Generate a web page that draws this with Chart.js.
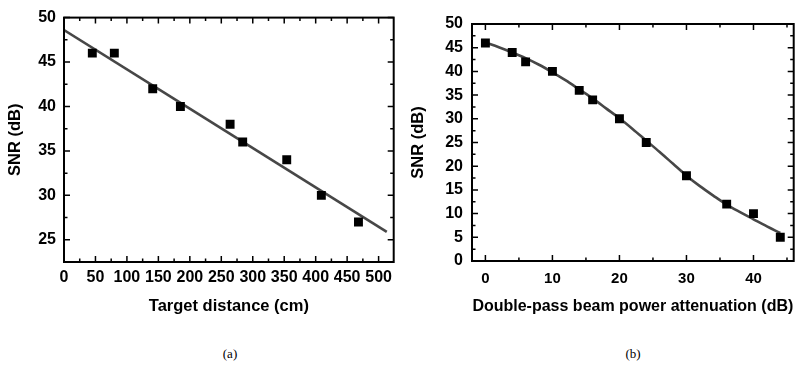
<!DOCTYPE html>
<html lang="en">
<head>
    <meta charset="UTF-8">
    <title>SNR vs distance and attenuation</title>
    <style>
        body { margin: 0; background: #fff; width: 800px; height: 366px; overflow: hidden; position: relative; }
        .panel { position: absolute; top: 0; width: 400px; height: 330px; }
        #panelA { left: 0; }
        #panelB { left: 400px; }
        .caption { position: absolute; top: 346px; font: 13px "Liberation Serif", "Times New Roman", serif; color: #000; transform: translateX(-50%); }
    </style>
    <script src="https://cdn.jsdelivr.net/npm/chart.js"></script>
</head>
<body>
<div class="panel" id="panelA"><canvas id="chartA" width="400" height="330"></canvas></div>
<div class="panel" id="panelB"><canvas id="chartB" width="400" height="330"></canvas></div>
<div class="caption" style="left:230px">(a)</div>
<div class="caption" style="left:633px">(b)</div>

<script>
    // (a) SNR vs target distance
    const distCm   = [45, 80, 141, 185, 264, 284, 354, 409, 468];
    const snrDist  = [46, 46, 42, 40, 38, 36, 34, 30, 27];
    // linear fit, end points
    const fitDistCm = [0, 513];
    const fitSnr    = [48.6, 25.9];
    const distTickLabels = [0, 50, 100, 150, 200, 250, 300, 350, 400, 450, 500];
    const snrTickLabelsA = [25, 30, 35, 40, 45, 50];

    // (b) SNR vs double-pass attenuation
    const attenDb  = [0, 4, 6, 10, 14, 16, 20, 24, 30, 36, 40, 44];
    const snrAtten = [46, 44, 42, 40, 36, 34, 30, 25, 18, 12, 10, 5];
    // fitted curve
    const curveAttenDb = [0, 2, 4, 6, 8, 10, 12, 14, 16, 18, 20, 22, 24, 26, 28, 30, 32, 34, 36, 38, 40, 42, 44];
    const curveSnr     = [46.1, 45.1, 44.0, 42.8, 41.4, 39.8, 38.1, 36.2, 34.3, 32.2, 30.1, 27.8, 25.4, 23.0, 20.5, 18.0, 15.8, 13.8, 11.9, 10.3, 8.8, 7.3, 5.9];
    const attenTickLabels = [0, 10, 20, 30, 40];
    const snrTickLabelsB = [0, 5, 10, 15, 20, 25, 30, 35, 40, 45, 50];

    const FONT = '"Liberation Sans", Arial, Helvetica, sans-serif';
    const toXY = (xs, ys) => xs.map((x, i) => ({ x: x, y: ys[i] }));

    // box frame + inward major/minor tick marks on all four sides
    function frameTicks(xMajor, yMajor) {
        return {
            id: 'frameTicks',
            afterDraw(chart) {
                const { ctx, chartArea: a, scales: { x, y } } = chart;
                ctx.save();
                ctx.setLineDash([]);
                ctx.strokeStyle = '#000';
                ctx.lineWidth = 1.5;
                for (const t of x.ticks) {
                    const px = x.getPixelForValue(t.value);
                    const len = xMajor.indexOf(t.value) >= 0 ? 6 : 3.5;
                    ctx.beginPath();
                    ctx.moveTo(px, a.bottom); ctx.lineTo(px, a.bottom - len);
                    ctx.moveTo(px, a.top); ctx.lineTo(px, a.top + len);
                    ctx.stroke();
                }
                for (const t of y.ticks) {
                    const py = y.getPixelForValue(t.value);
                    const len = yMajor.indexOf(t.value) >= 0 ? 6 : 3.5;
                    ctx.beginPath();
                    ctx.moveTo(a.left, py); ctx.lineTo(a.left + len, py);
                    ctx.moveTo(a.right, py); ctx.lineTo(a.right - len, py);
                    ctx.stroke();
                }
                ctx.lineWidth = 2;
                ctx.strokeRect(a.left, a.top, a.right - a.left, a.bottom - a.top);
                ctx.restore();
            }
        };
    }

    function axis(opts) {
        return {
            type: 'linear',
            position: opts.position,
            min: opts.min,
            max: opts.max,
            grid: { display: true, drawOnChartArea: false, drawTicks: false },
            border: { display: false },
            ticks: {
                stepSize: opts.step,
                maxTicksLimit: 100,
                includeBounds: false,
                autoSkip: false,
                maxRotation: 0,
                padding: opts.pad,
                color: '#000',
                font: { family: FONT, size: opts.fontSize || 16, weight: 'bold' },
                callback: v => opts.labels.includes(v) ? String(v) : ''
            },
            title: {
                display: true, text: opts.title, color: '#000',
                padding: opts.titlePad,
                font: { family: FONT, size: opts.titleSize || 16.5, weight: 'bold' }
            },
            afterFit: s => { if (opts.w !== undefined) s.width = opts.w; if (opts.h !== undefined) s.height = opts.h; }
        };
    }

    function makeChart(id, pts, line, pad, xMajor, yMajor, scales) {
        return new Chart(document.getElementById(id), {
            type: 'scatter',
            data: {
                datasets: [
                    { data: pts, pointStyle: 'rect', pointRadius: 6.3, backgroundColor: '#000', borderColor: '#000', borderWidth: 0, order: 0 },
                    { data: line, showLine: true, pointRadius: 0, borderColor: '#474747', borderWidth: 2.6, cubicInterpolationMode: 'monotone', order: 1 }
                ]
            },
            options: {
                responsive: false,
                devicePixelRatio: 1,
                animation: false,
                layout: { padding: pad },
                plugins: { legend: { display: false }, tooltip: { enabled: false } },
                scales: scales
            },
            plugins: [frameTicks(xMajor, yMajor)]
        });
    }

    makeChart('chartA', toXY(distCm, snrDist), toXY(fitDistCm, fitSnr),
        { top: 16, right: 5, left: 0, bottom: 0 }, distTickLabels, snrTickLabelsA,
        {
            x: axis({ position: 'bottom', min: 0, max: 524, step: 25, labels: distTickLabels, pad: 6, h: 68,
                      title: 'Target distance (cm)', titlePad: { top: 0, bottom: 14 } }),
            y: axis({ position: 'left', min: 22.5, max: 50, step: 2.5, labels: snrTickLabelsA, pad: 8, w: 64,
                      title: 'SNR (dB)', titlePad: { top: 6, bottom: 0 } })
        });

    makeChart('chartB', toXY(attenDb, snrAtten), toXY(curveAttenDb, curveSnr),
        { top: 24, right: 6, left: 0, bottom: 0 }, attenTickLabels, snrTickLabelsB,
        {
            x: axis({ position: 'bottom', min: -2, max: 46, step: 5, labels: attenTickLabels, pad: 9, h: 69, fontSize: 15,
                      title: 'Double-pass beam power attenuation (dB)', titleSize: 16, titlePad: { top: 0, bottom: 14 } }),
            y: axis({ position: 'left', min: 0, max: 50, step: 2.5, labels: snrTickLabelsB, pad: 9, w: 72,
                      title: 'SNR (dB)', titlePad: { top: 9, bottom: 0 } })
        });
</script>
</body>
</html>
